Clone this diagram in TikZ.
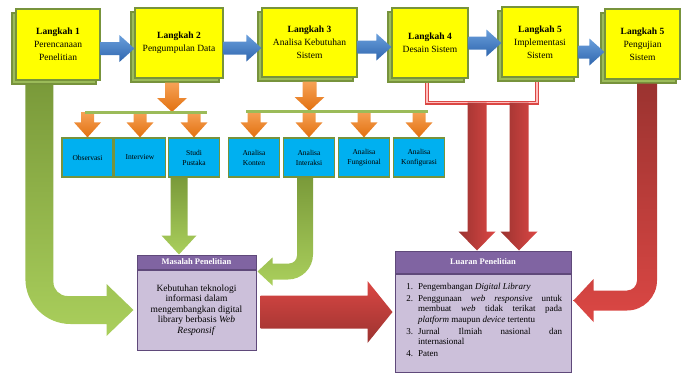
\documentclass[tikz,border=0pt]{standalone}
\usepackage{fontspec}
\setmainfont{Liberation Serif}
\usepackage{enumitem}
\usetikzlibrary{positioning,calc,shadows}

\definecolor{kuning}{HTML}{FFFF00}
\definecolor{zaitun}{HTML}{77933C}
\definecolor{hijau}{HTML}{9BBB59}
\definecolor{hijauT}{HTML}{7A9A3A}
\definecolor{hijauM}{HTML}{AACF5C}
\definecolor{biru}{HTML}{00B0F0}
\definecolor{biruT}{HTML}{6A9FDC}
\definecolor{biruG}{HTML}{2F66AE}
\definecolor{jinggaT}{HTML}{F6A256}
\definecolor{jinggaG}{HTML}{E2700F}
\definecolor{merahT}{HTML}{9B3330}
\definecolor{merahM}{HTML}{DB4744}
\definecolor{ungu}{HTML}{8064A2}
\definecolor{unguG}{HTML}{5F497A}
\definecolor{unguM}{HTML}{CCC0DA}

% block arrow going down: style, from, to, half shaft, half head, head length
\newcommand{\panahbawah}[6]{%
  \shade[#1] let \p1=(#2), \p2=(#3) in
    ({\x1-#4},\y1) -- ({\x1-#4},{\y2+#6}) -- ({\x1-#5},{\y2+#6}) -- (\x1,\y2)
    -- ({\x1+#5},{\y2+#6}) -- ({\x1+#4},{\y2+#6}) -- ({\x1+#4},\y1) -- cycle;}

% block arrow going right
\newcommand{\panahkanan}[6]{%
  \shade[#1] let \p1=(#2), \p2=(#3) in
    (\x1,{\y1+#4}) -- ({\x2-#6},{\y1+#4}) -- ({\x2-#6},{\y1+#5}) -- (\x2,\y1)
    -- ({\x2-#6},{\y1-#5}) -- ({\x2-#6},{\y1-#4}) -- (\x1,{\y1-#4}) -- cycle;}

% bent arrow: down, then sideways (#9 = 1 right, -1 left)
\newcommand{\panahbelok}[9]{%
  \shade[#1] let \p1=(#2), \p2=(#3) in
    ({\x1-(#9)*#4},\y1) -- ({\x1-(#9)*#4},{\y2-#4+#7})
    .. controls ({\x1-(#9)*#4},{\y2-#4+0.45*#7}) and ({\x1-(#9)*#4+(#9)*0.45*#7},{\y2-#4}) .. ({\x1-(#9)*#4+(#9)*#7},{\y2-#4})
    -- ({\x2-(#9)*#6},{\y2-#4}) -- ({\x2-(#9)*#6},{\y2-#5}) -- (\x2,\y2)
    -- ({\x2-(#9)*#6},{\y2+#5}) -- ({\x2-(#9)*#6},{\y2+#4}) -- ({\x1+(#9)*#4+(#9)*#8},{\y2+#4})
    .. controls ({\x1+(#9)*#4+(#9)*0.45*#8},{\y2+#4}) and ({\x1+(#9)*#4},{\y2+#4+0.45*#8}) .. ({\x1+(#9)*#4},{\y2+#4+#8})
    -- ({\x1+(#9)*#4},\y1) -- cycle;}

\begin{document}
\begin{tikzpicture}[x=1pt,y=-1pt,
    langkah/.style={draw=zaitun, line width=1.2pt, fill=kuning, align=center, inner sep=2pt,
      font=\fontsize{9.5}{13}\selectfont,
      copy shadow={shadow xshift=-4pt, shadow yshift=-4pt, fill=hijau, draw=zaitun, line width=1.2pt}},
    sub/.style={draw=zaitun, line width=1.2pt, fill=biru, align=center, minimum width=51pt,
      minimum height=39pt, inner sep=1pt, font=\fontsize{7.5}{10}\selectfont},
    kepala/.style={draw=unguG, line width=1pt, fill=ungu, text=white, inner sep=1pt,
      font=\bfseries\fontsize{8.5}{10}\selectfont},
    isi/.style={draw=unguG, line width=1pt, fill=unguM, inner sep=3pt},
    garis/.style={hijau, line width=3pt},
    kurung/.style={draw=merahM, line width=1.3pt, double=red!25, double distance=1.6pt},
    panahbiru/.style={top color=biruT, bottom color=biruG},
    panahjingga/.style={top color=jinggaT, bottom color=jinggaG},
    panahhijau/.style={top color=hijauT, bottom color=hijauM},
    panahmerah/.style={top color=merahT, bottom color=merahM},
    panahmerahV/.style={left color=merahT, right color=merahM},
    panahmerahH/.style={top color=merahM, bottom color=merahT}]
  \useasboundingbox (0,0) rectangle (686,373);

  % langkah
  \node[langkah, minimum width=84pt, minimum height=71pt] (l1) at (58,44.5) {\textbf{Langkah 1}\\Perencanaan\\Penelitian};
  \node[langkah, minimum width=88pt, minimum height=70pt] (l2) at (179,43) {\textbf{Langkah 2}\\Pengumpulan Data};
  \node[langkah, minimum width=95pt, minimum height=69pt] (l3) at (309.5,42.5) {\textbf{Langkah 3}\\Analisa Kebutuhan\\Sistem};
  \node[langkah, minimum width=76pt, minimum height=70pt] (l4) at (430,43) {\textbf{Langkah 4}\\Desain Sistem};
  \node[langkah, minimum width=76pt, minimum height=70pt] (l5) at (540,42) {\textbf{Langkah 5}\\Implementasi\\Sistem};
  \node[langkah, minimum width=75pt, minimum height=70pt] (l6) at (642.5,44) {\textbf{Langkah 5}\\Pengujian\\Sistem};

  % sub kegiatan
  \node[sub] (obs) at (87.5,157.5) {Observasi};
  \node[sub] (itv) at (140,157.5) {Interview};
  \node[sub] (stu) at (194,157.5) {Studi\\Pustaka};
  \node[sub] (kon) at (254,157.5) {Analisa\\Konten};
  \node[sub] (int) at (309,157.5) {Analisa\\Interaksi};
  \node[sub] (fun) at (364,157.5) {Analisa\\Fungsional};
  \node[sub] (kfg) at (419,157.5) {Analisa\\Konfigurasi};

  % masalah dan luaran
  \node[kepala, minimum width=119pt, minimum height=14pt] (mash) at (196.5,262) {Masalah Penelitian};
  \node[isi, minimum width=119pt, minimum height=80pt, align=center,
    font=\fontsize{9.5}{10.5}\selectfont] (mas) [below=0pt of mash]
    {Kebutuhan teknologi\\informasi dalam\\mengembangkan digital\\library berbasis \textit{Web}\\\textit{Responsif}};
  \node[kepala, minimum width=176pt, minimum height=22pt] (luah) at (483,262) {Luaran Penelitian};
  \node[isi, minimum width=176pt, minimum height=98pt] (lua) [below=0pt of luah] {};
  \node[text width=158pt, align=justify, anchor=north, inner sep=0pt,
    font=\fontsize{9}{10.5}\selectfont] (luat) at ([yshift=-5pt]lua.north) {%
    \begin{enumerate}[label=\arabic*., leftmargin=14pt, labelsep=5pt, itemsep=1.5pt,
      parsep=0pt, topsep=0pt, partopsep=0pt]
    \item Pengembangan \textit{Digital Library}
    \item Penggunaan \textit{web responsive} untuk\linebreak membuat \textit{web} tidak terikat pada\linebreak
      \textit{platform} maupun \textit{device} tertentu
    \item Jurnal Ilmiah nasional dan\linebreak internasional
    \item Paten
    \end{enumerate}};

  % panah antar langkah
  \panahkanan{panahbiru}{[yshift=-4pt]l1.east}{l2.west}{6.5pt}{13.5pt}{15pt}
  \panahkanan{panahbiru}{[yshift=-5pt]l2.east}{l3.west}{6.5pt}{13.5pt}{15pt}
  \panahkanan{panahbiru}{[yshift=-4.5pt]l3.east}{l4.west}{6.5pt}{13.5pt}{15pt}
  \panahkanan{panahbiru}{l4.east}{l5.west}{6.5pt}{13.5pt}{15pt}
  \panahkanan{panahbiru}{[yshift=-10pt]l5.east}{l6.west}{6.5pt}{13.5pt}{15pt}

  % cabang ke sub kegiatan
  \coordinate (g1a) at (85,112);
  \coordinate (g1b) at (207,112);
  \coordinate (g2a) at (246,111);
  \coordinate (g2b) at (428,111);
  \panahbawah{panahjingga}{[xshift=-7pt,yshift=-4pt]l2.south}{g1a}{7pt}{15pt}{14pt}
  \panahbawah{panahjingga}{[yshift=-4pt]l3.south}{g2a}{7pt}{15pt}{14pt}
  \foreach \s in {obs,itv,stu}
    \panahbawah{panahjingga}{\s.north |- g1a}{\s.north}{6.5pt}{13.5pt}{15pt};
  \foreach \s in {kon,int,fun,kfg}
    \panahbawah{panahjingga}{\s.north |- g2a}{\s.north}{6.5pt}{13.5pt}{15pt};
  \draw[garis] (g1a) -- (g1b);
  \draw[garis] (g2a) -- (g2b);

  % ke masalah penelitian
  \panahbelok{panahhijau}{[xshift=24pt,yshift=-4pt]l1.south west}{[xshift=-3pt]mas.west}{14pt}{26pt}{27pt}{45pt}{14pt}{1}
  \panahbawah{panahhijau}{[xshift=-15pt]stu.south}{mash.north}{8.5pt}{17.5pt}{19pt}
  \panahbelok{panahhijau}{[xshift=-4pt]int.south}{[xshift=1pt,yshift=-2pt]mas.north east}{8pt}{14pt}{15pt}{25pt}{8pt}{-1}

  % ke luaran penelitian
  \coordinate (kiri) at ([xshift=-3pt,yshift=-4pt]l4.south);
  \draw[kurung] (kiri) -- ++(0,20) -| ([xshift=-3pt,yshift=-4pt]l5.south);
  \path (kiri) ++(50,20) coordinate (m1) ++(42,0) coordinate (m2);
  \panahbawah{panahmerahV}{m1}{luah.north}{9.5pt}{18.5pt}{19pt}
  \panahbawah{panahmerahV}{m2}{luah.north}{9.5pt}{18.5pt}{19pt}
  \panahkanan{panahmerahH}{[xshift=4pt,yshift=-2pt]mas.east}{[xshift=-2pt]lua.west}{16.5pt}{31pt}{25pt}
  \panahbelok{panahmerah}{[xshift=4.5pt,yshift=-4pt]l6.south}{[xshift=2pt,yshift=-27pt]lua.north east}{10pt}{21.5pt}{20pt}{30pt}{10pt}{-1}
\end{tikzpicture}
\end{document}
